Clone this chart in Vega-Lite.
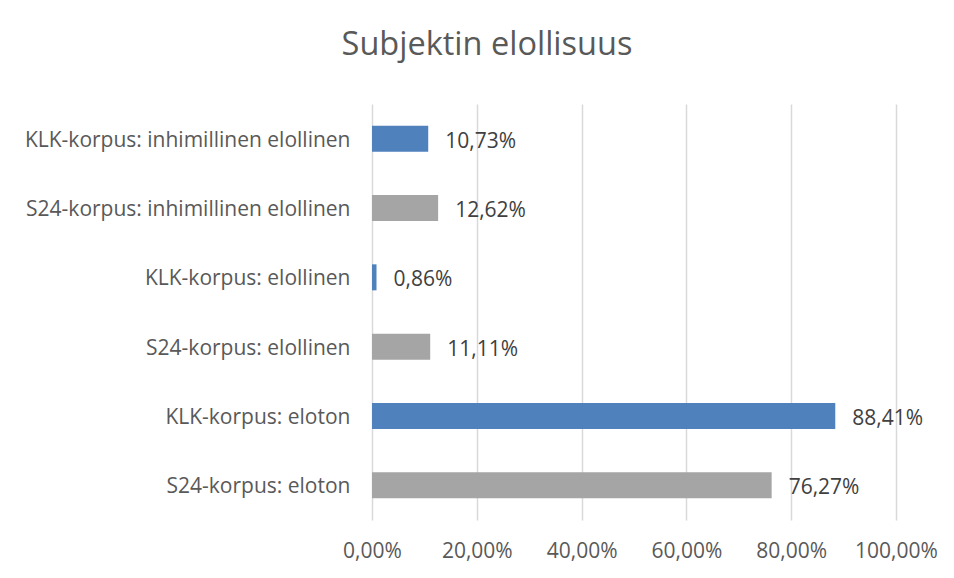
{
  "$schema": "https://vega.github.io/schema/vega-lite/v6.json",
  "width": 524,
  "height": 416,
  "autosize": {"type": "none"},
  "padding": {"left": 372, "top": 104, "right": 58, "bottom": 58},
  "background": "white",
  "title": {
    "text": "Subjektin elollisuus",
    "anchor": "middle",
    "dx": -147,
    "offset": 43,
    "fontSize": 32.5,
    "font": "Open Sans",
    "fontWeight": "normal",
    "color": "#595959"
  },
  "config": {
    "locale": {"number": {"decimal": ",", "thousands": " ", "grouping": [3], "currency": ["", " €"], "percent": "%"}},
    "view": {"stroke": null},
    "font": "Open Sans"
  },
  "data": {
    "values": [
      {"kategoria": "KLK-korpus: inhimillinen elollinen", "korpus": "KLK", "osuus": 0.1073},
      {"kategoria": "S24-korpus: inhimillinen elollinen", "korpus": "S24", "osuus": 0.1262},
      {"kategoria": "KLK-korpus: elollinen", "korpus": "KLK", "osuus": 0.0086},
      {"kategoria": "S24-korpus: elollinen", "korpus": "S24", "osuus": 0.1111},
      {"kategoria": "KLK-korpus: eloton", "korpus": "KLK", "osuus": 0.8841},
      {"kategoria": "S24-korpus: eloton", "korpus": "S24", "osuus": 0.7627}
    ]
  },
  "encoding": {
    "y": {
      "field": "kategoria",
      "type": "nominal",
      "sort": null,
      "scale": {"paddingInner": 0.625, "paddingOuter": 0.3125},
      "axis": {
        "title": null,
        "domain": false,
        "ticks": false,
        "labelPadding": 22,
        "labelOffset": 2,
        "labelFontSize": 21,
        "labelColor": "#595959",
        "labelLimit": 400
      }
    },
    "x": {
      "field": "osuus",
      "type": "quantitative",
      "scale": {"domain": [0, 1], "nice": false},
      "axis": {
        "title": null,
        "format": ".2%",
        "values": [0, 0.2, 0.4, 0.6, 0.8, 1],
        "domain": false,
        "ticks": false,
        "labelPadding": 20,
        "labelFontSize": 21,
        "labelColor": "#595959",
        "labelOverlap": false,
        "labelFlush": false,
        "labelBound": false,
        "gridColor": "#d9d9d9",
        "gridWidth": 1.5
      }
    }
  },
  "layer": [
    {
      "mark": {"type": "bar"},
      "encoding": {
        "color": {
          "field": "korpus",
          "type": "nominal",
          "scale": {"domain": ["KLK", "S24"], "range": ["#4f81bd", "#a5a5a5"]},
          "legend": null
        }
      }
    },
    {
      "mark": {"type": "text", "align": "left", "baseline": "middle", "dx": 17, "dy": 3, "fontSize": 21, "color": "#404040"},
      "encoding": {
        "text": {"field": "osuus", "type": "quantitative", "format": ".2%"}
      }
    }
  ]
}
